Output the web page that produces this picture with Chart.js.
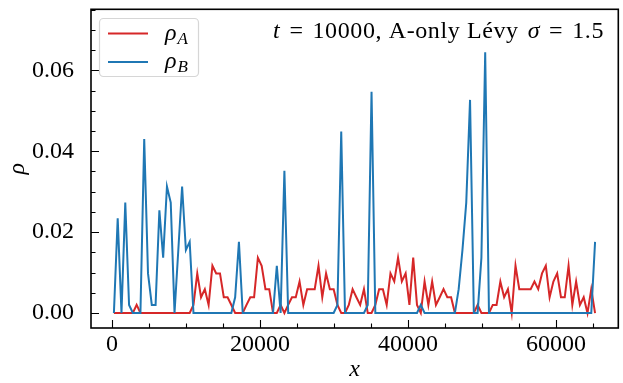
<!DOCTYPE html>
<html>
<head>
<meta charset="utf-8">
<script src="https://cdn.jsdelivr.net/npm/chart.js@4.4.1/dist/chart.umd.min.js"></script>
<style>
  html, body { margin: 0; padding: 0; background: #fff; }
  #wrap { width: 623px; height: 383px; }
</style>
</head>
<body>
<div id="wrap"><canvas id="rhoChart" width="623" height="383"></canvas></div>
<script>
// Density profiles (128 bins of width 512)
const gridStart = 256;
const gridStep = 512;

const rhoA = [
    0, 0, 0, 0, 0, 0, 0.0020, 0, 0, 0, 0, 0, 0, 0, 0, 0,
    0, 0, 0, 0, 0, 0.0020, 0.0098, 0.0039, 0.0059, 0.0020, 0.0117, 0.0098, 0.0098, 0.0039, 0.0039, 0.0020,
    0, 0, 0, 0.0020, 0.0039, 0.0039, 0.0137, 0.0117, 0.0059, 0.0059, 0, 0, 0.0020, 0, 0.0020, 0.0039,
    0.0039, 0.0078, 0.0020, 0.0059, 0.0059, 0.0059, 0.0117, 0.0039, 0.0098, 0.0059, 0.0059, 0.0020, 0, 0, 0.0020, 0.0059,
    0.0039, 0.0020, 0.0059, 0, 0, 0.0020, 0.0059, 0.0059, 0.0020, 0.0098, 0.0078, 0.0137, 0.0078, 0.0098, 0.0020, 0.0137,
    0.0020, 0, 0.0078, 0.0020, 0.0078, 0.0020, 0.0039, 0.0059, 0.0039, 0.0039, 0, 0, 0, 0, 0, 0,
    0.0020, 0, 0, 0, 0.0020, 0.0020, 0.0078, 0.0039, 0.0059, 0, 0.0117, 0.0059, 0.0059, 0.0059, 0.0059, 0.0078,
    0.0059, 0.0098, 0.0117, 0.0039, 0.0078, 0.0098, 0.0039, 0.0039, 0.0117, 0.0020, 0.0078, 0.0020, 0.0039, 0, 0.0059, 0
];

const rhoB = [
    0, 0.0234, 0, 0.0273, 0.0020, 0, 0, 0, 0.0430, 0.0098, 0.0020, 0.0020, 0.0254, 0.0137, 0.0313, 0.0273,
    0, 0.0156, 0.0313, 0.0156, 0.0176, 0, 0, 0, 0, 0, 0, 0, 0, 0, 0, 0,
    0.0039, 0.0176, 0, 0, 0, 0, 0, 0, 0, 0, 0, 0.0117, 0, 0.0352, 0, 0,
    0, 0, 0, 0, 0, 0, 0, 0, 0, 0, 0, 0.0020, 0.0449, 0, 0, 0,
    0, 0, 0, 0.0020, 0.0547, 0, 0, 0, 0, 0, 0, 0, 0, 0, 0, 0,
    0, 0.0020, 0, 0, 0, 0, 0, 0, 0, 0, 0, 0.0059, 0.0156, 0.0273, 0.0527, 0,
    0, 0.0137, 0.0645, 0, 0, 0, 0, 0, 0, 0, 0, 0, 0, 0, 0, 0,
    0, 0, 0, 0, 0, 0, 0, 0, 0, 0, 0, 0, 0, 0, 0, 0.0176
];

const xTicks = [0, 20000, 40000, 60000];
const yTicks = [0, 0.02, 0.04, 0.06];
const xMinorTicks = [0, 5000, 10000, 15000, 20000, 25000, 30000, 35000, 40000, 45000, 50000, 55000, 60000, 65000];
const yMinorTicks = [0, 0.005, 0.01, 0.015, 0.02, 0.025, 0.03, 0.035, 0.04, 0.045, 0.05, 0.055, 0.06, 0.065, 0.07, 0.075];

const colors = {
    red: '#d62728',
    blue: '#1f77b4'
};

const serif = '"Liberation Serif", "DejaVu Serif", serif';
const fontSize = 24;

const xs = rhoA.map((_, i) => gridStart + gridStep * i);
const toPoints = arr => arr.map((v, i) => ({ x: xs[i], y: v }));

// Inward ticks, frame, legend, annotation and axis titles (matplotlib look)
const decor = {
    id: 'decor',
    afterDatasetsDraw(chart) {
        const { ctx, chartArea: a, scales: { x, y } } = chart;
        ctx.save();
        ctx.strokeStyle = '#000';
        ctx.lineWidth = 1.1;
        ctx.beginPath();
        xMinorTicks.forEach(v => {
            const p = Math.round(x.getPixelForValue(v)) + 0.5;
            const len = xTicks.includes(v) ? 8 : 4.5;
            ctx.moveTo(p, a.bottom); ctx.lineTo(p, a.bottom - len);
        });
        yMinorTicks.forEach(v => {
            const p = Math.round(y.getPixelForValue(v)) + 0.5;
            const len = yTicks.includes(v) ? 8 : 4.5;
            ctx.moveTo(a.left, p); ctx.lineTo(a.left + len, p);
        });
        ctx.stroke();

        ctx.lineWidth = 1.6;
        ctx.strokeRect(a.left, a.top, a.width, a.height);

        // legend box
        const lx = 99.5, ly = 18.5, lw = 99, lh = 58;
        ctx.beginPath();
        ctx.roundRect(lx, ly, lw, lh, 4);
        ctx.fillStyle = 'rgba(255,255,255,0.8)';
        ctx.fill();
        ctx.strokeStyle = '#d6d6d6';
        ctx.lineWidth = 1.2;
        ctx.stroke();

        const entries = [
            { color: colors.red, sub: 'A', yy: 33.5 },
            { color: colors.blue, sub: 'B', yy: 62 }
        ];
        entries.forEach(e => {
            ctx.strokeStyle = e.color;
            ctx.lineWidth = 2;
            ctx.beginPath();
            ctx.moveTo(108, e.yy); ctx.lineTo(148, e.yy);
            ctx.stroke();
            ctx.fillStyle = '#000';
            ctx.textBaseline = 'alphabetic';
            ctx.textAlign = 'left';
            ctx.font = `italic ${fontSize}px ${serif}`;
            ctx.fillText('ρ', 165, e.yy + 6);
            const w = ctx.measureText('ρ').width;
            ctx.font = `italic 17px ${serif}`;
            ctx.fillText(e.sub, 165 + w + 1, e.yy + 10);
        });

        // annotation, right aligned
        const parts = [
            { t: 't', it: true, gap: 0 },
            { t: '=', it: false, gap: 9 },
            { t: '10000, A-only Lévy', it: false, gap: 9 },
            { t: 'σ', it: true, gap: 9 },
            { t: '=', it: false, gap: 9 },
            { t: '1.5', it: false, gap: 9 }
        ];
        ctx.letterSpacing = '0.6px';
        let total = 0;
        parts.forEach(p => {
            ctx.font = `${p.it ? 'italic ' : ''}${fontSize}px ${serif}`;
            p.w = ctx.measureText(p.t).width;
            total += p.w + p.gap;
        });
        let cx = 604 - total;
        ctx.fillStyle = '#000';
        parts.forEach(p => {
            ctx.font = `${p.it ? 'italic ' : ''}${fontSize}px ${serif}`;
            cx += p.gap;
            ctx.fillText(p.t, cx, 38);
            cx += p.w;
        });
        ctx.letterSpacing = '0px';

        // axis titles
        ctx.font = `italic ${fontSize}px ${serif}`;
        ctx.textAlign = 'center';
        ctx.fillText('x', (a.left + a.right) / 2, 376);
        ctx.save();
        ctx.translate(24, (a.top + a.bottom) / 2);
        ctx.rotate(-Math.PI / 2);
        ctx.fillText('ρ', 0, 0);
        ctx.restore();

        ctx.restore();
    }
};

new Chart(document.getElementById('rhoChart'), {
    type: 'line',
    data: {
        datasets: [{
            label: 'ρA',
            data: toPoints(rhoA),
            borderColor: colors.red,
            borderWidth: 2,
            pointRadius: 0,
            tension: 0,
            fill: false,
            order: 2
        }, {
            label: 'ρB',
            data: toPoints(rhoB),
            borderColor: colors.blue,
            borderWidth: 2,
            pointRadius: 0,
            tension: 0,
            fill: false,
            order: 1
        }]
    },
    options: {
        responsive: false,
        animation: false,
        devicePixelRatio: 1,
        layout: { padding: { left: 0, right: 4.7, top: 9.3, bottom: 0 } },
        plugins: {
            legend: { display: false },
            tooltip: { enabled: false }
        },
        scales: {
            x: {
                type: 'linear',
                min: -2840,
                max: 68420,
                afterBuildTicks: s => { s.ticks = xTicks.map(v => ({ value: v })); },
                afterFit: s => { s.height = 55; s.paddingLeft = 0; s.paddingRight = 0; },
                grid: { display: false },
                border: { display: false },
                ticks: {
                    color: '#000',
                    font: { family: serif, size: fontSize },
                    padding: -6,
                    maxRotation: 0,
                    callback: v => String(v)
                }
            },
            y: {
                type: 'linear',
                min: -0.0037,
                max: 0.0751,
                afterBuildTicks: s => { s.ticks = yTicks.map(v => ({ value: v })); },
                afterFit: s => { s.width = 91; s.paddingTop = 0; s.paddingBottom = 0; },
                grid: { display: false },
                border: { display: false },
                ticks: {
                    color: '#000',
                    font: { family: serif, size: fontSize },
                    padding: 9,
                    callback: v => v.toFixed(2)
                }
            }
        }
    },
    plugins: [decor]
});
</script>
</body>
</html>
